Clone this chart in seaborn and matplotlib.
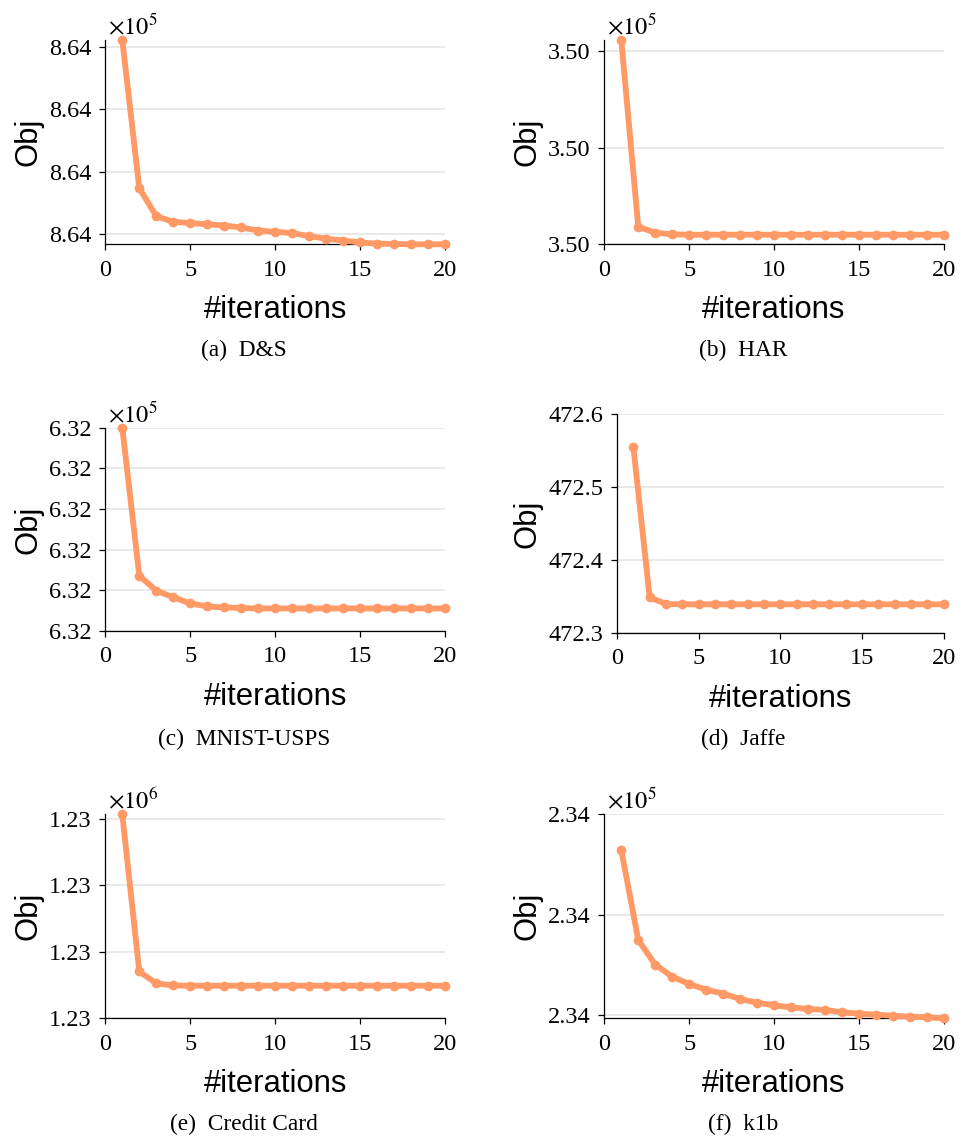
import matplotlib
matplotlib.use('Agg')
import matplotlib.pyplot as plt
import seaborn as sns
import numpy as np
import pandas as pd
from matplotlib.ticker import FormatStrFormatter, FixedLocator

sns.set_style('ticks')
plt.rcParams['font.family'] = ['Liberation Serif', 'DejaVu Serif']
plt.rcParams['mathtext.fontset'] = 'stix'
plt.rcParams['text.color'] = 'black'
plt.rcParams['axes.labelcolor'] = 'black'

# ---------------- data ----------------
iterations = list(range(1, 21))

ds_obj = [864041.1, 864017.4, 864012.9, 864012.0, 864011.8, 864011.6, 864011.4,
          864011.1, 864010.6, 864010.4, 864010.2, 864009.7, 864009.3, 864009.0,
          864008.7, 864008.5, 864008.45, 864008.4, 864008.4, 864008.4]
ds_ticks = [864010, 864020, 864030, 864040]

har_obj = [350031.13, 350011.82, 350011.20, 350011.03] + [350010.99] * 16
har_ticks = [350010, 350020, 350030]

mnist_obj = [632020.0, 632012.72, 632011.98, 632011.66, 632011.36, 632011.21,
             632011.16, 632011.13] + [632011.11] * 12
mnist_ticks = [632010, 632012, 632014, 632016, 632018, 632020]

jaffe_obj = [472.5556, 472.3486, 472.3394] + [472.339] * 17
jaffe_ticks = [472.3, 472.4, 472.5, 472.6]

credit_obj = [1230040.7, 1230017.05, 1230015.25, 1230014.95] + [1230014.9] * 16
credit_ticks = [1230010, 1230020, 1230030, 1230040]

k1b_obj = [234026.45, 234017.48, 234015.02, 234013.82, 234013.09, 234012.52,
           234012.13, 234011.59, 234011.23, 234010.96, 234010.76, 234010.60,
           234010.50, 234010.27, 234010.13, 234010.03, 234009.93, 234009.83,
           234009.77, 234009.67]
k1b_ticks = [234010, 234020, 234030]

captions = ['(a)  D&S', '(b)  HAR', '(c)  MNIST-USPS', '(d)  Jaffe',
            '(e)  Credit Card', '(f)  k1b']
x_ticks = [0, 5, 10, 15, 20]

ORANGE = '#FF9966'
W, H = 963, 1140

panels = [
    dict(values=ds_obj, ticks=ds_ticks, scale=1e5, exp=5, fmt='%.2f',
         ylim=(min(ds_obj), max(ds_obj)), rect=(105.3, 40, 445, 244.3), ylab=62,
         cap=(244, 356)),
    dict(values=har_obj, ticks=har_ticks, scale=1e5, exp=5, fmt='%.2f',
         ylim=(350010, max(har_obj)), rect=(604.3, 40, 943.7, 244.3), ylab=62,
         cap=(743, 356)),
    dict(values=mnist_obj, ticks=mnist_ticks, scale=1e5, exp=5, fmt='%.2f',
         ylim=(632010, 632020), rect=(105.3, 427.7, 445, 631), ylab=62,
         cap=(244, 745)),
    dict(values=jaffe_obj, ticks=jaffe_ticks, scale=1, exp=None, fmt='%.1f',
         ylim=(472.3, 472.6), rect=(617, 414.3, 943.7, 632.7), ylab=75,
         cap=(743, 745)),
    dict(values=credit_obj, ticks=credit_ticks, scale=1e6, exp=6, fmt='%.2f',
         ylim=(1230010, max(credit_obj)), rect=(105.3, 814.3, 445, 1018.3), ylab=62,
         cap=(244, 1130)),
    dict(values=k1b_obj, ticks=k1b_ticks, scale=1e5, exp=5, fmt='%.2f',
         ylim=(min(k1b_obj), 234030), rect=(604.3, 814.3, 943.7, 1018.3), ylab=62,
         cap=(743, 1130)),
]

fig = plt.figure(figsize=(W / 100, H / 100), dpi=100)

for p, caption in zip(panels, captions):
    l, t, r, b = p['rect']
    wpx, hpx = r - l, b - t
    ax = fig.add_axes([l / W, 1 - b / H, wpx / W, hpx / H])
    df = pd.DataFrame({'iter': iterations,
                       'obj': np.array(p['values']) / p['scale']})
    sns.lineplot(data=df, x='iter', y='obj', ax=ax, color=ORANGE, lw=4.2,
                 marker='o', markersize=7, markeredgewidth=0, clip_on=False,
                 zorder=3)
    ax.set_xlim(0, 20)
    ax.set_ylim(p['ylim'][0] / p['scale'], p['ylim'][1] / p['scale'])
    ax.xaxis.set_major_locator(FixedLocator(x_ticks))
    ax.yaxis.set_major_locator(FixedLocator([v / p['scale'] for v in p['ticks']]))
    ax.yaxis.set_major_formatter(FormatStrFormatter(p['fmt']))
    ax.yaxis.grid(True, color='#e5e5e5', lw=1.2)
    ax.xaxis.grid(False)
    ax.set_axisbelow(True)
    sns.despine(ax=ax)
    for s in ['left', 'bottom']:
        ax.spines[s].set_linewidth(0.9)
        ax.spines[s].set_color('black')
    ax.tick_params(axis='both', direction='out', length=4, width=0.9,
                   labelsize=17.5, colors='black')
    ax.tick_params(axis='x', pad=7)
    ax.tick_params(axis='y', pad=6)

    ax.set_xlabel('#iterations', family='Liberation Sans', fontsize=22.3,
                  color='black')
    ax.xaxis.set_label_coords(0.5, -74 / hpx)
    ax.xaxis.label.set_va('baseline')
    ax.set_ylabel('Obj', family='Liberation Sans', fontsize=22.3, color='black')
    ax.yaxis.set_label_coords(-p['ylab'] / wpx, 0.5)

    if p['exp'] is not None:
        ax.annotate(r'$\times10^{%d}$' % p['exp'], xy=(0, 1), xycoords='axes fraction',
                    xytext=(2, 4.5), textcoords='offset points', ha='left',
                    va='baseline', fontsize=17.5, color='black')

    cx, cy = p['cap']
    fig.text(cx / W, 1 - cy / H, caption, ha='center', va='baseline',
             fontsize=16.8, color='black')

fig.savefig('out.png', dpi=100)
